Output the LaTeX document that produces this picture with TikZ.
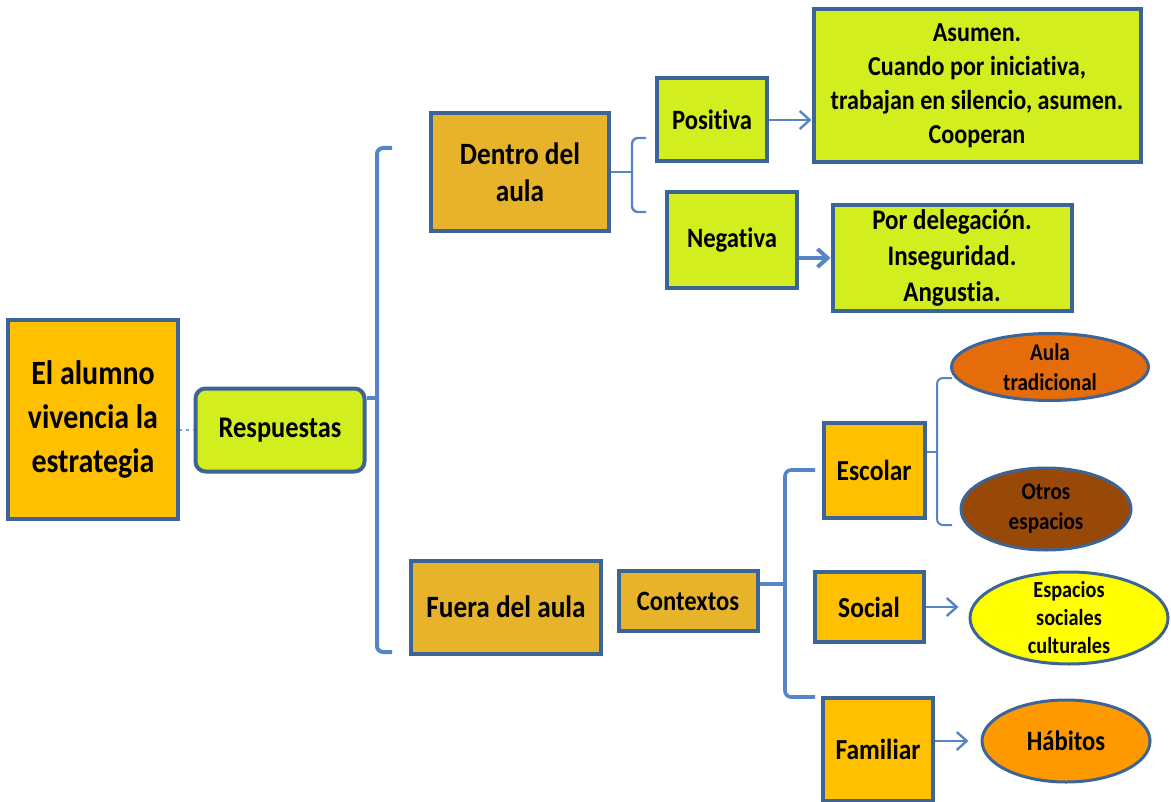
\documentclass[tikz,border=0pt]{standalone}
\usepackage{fontspec}
\setmainfont{Carlito}[FakeStretch=0.88, RawFeature={-liga;-calt;-clig;-dlig}]
\usepackage{xcolor}
\usepackage{tikz}
\usetikzlibrary{calc}
\usetikzlibrary{arrows.meta}
\usetikzlibrary{shapes.geometric}
\definecolor{borde}{HTML}{3C6496}
\definecolor{conector}{HTML}{5585C8}
\definecolor{naranja}{HTML}{FFC000}
\definecolor{dorado}{HTML}{E6B32A}
\definecolor{lima}{HTML}{D2EE1E}
\definecolor{naranjaosc}{HTML}{E46C0A}
\definecolor{marron}{HTML}{984807}
\definecolor{amarillo}{HTML}{FFFF00}
\definecolor{naranjacl}{HTML}{FF9900}
\tikzset{>={Straight Barb[length=5pt,width=9pt]}}
\tikzstyle{caja} = [draw=borde, line width=2pt, align=center, inner sep=2pt]
\tikzstyle{ovalo} = [ellipse, draw=borde, line width=1.5pt, align=center, inner sep=-5pt]
\tikzstyle{llave} = [-, draw=conector, line width=1.5pt, rounded corners=3pt]
\tikzstyle{flecha} = [->, draw=conector, line width=1.2pt]
\tikzstyle{enlace} = [-, dotted, draw=conector!80, line width=1.2pt]
\newcommand{\letra}[2]{\bfseries\fontsize{#1}{#2}\selectfont}

\begin{document}
\begin{tikzpicture}[x=0.5pt, y=-0.5pt]
\useasboundingbox (0,0) rectangle (1171,802);

% columna izquierda
\node [caja, fill=naranja, minimum width=85pt, minimum height=99.5pt, font=\letra{17}{22}] (alumno) at (93,419) {El alumno\\vivencia la\\estrategia};
\node [caja, fill=lima, rounded corners=5pt, minimum width=84.5pt, minimum height=41.5pt, font=\letra{15}{18}] (resp) at (280,430) {Respuestas};
\draw [enlace] (alumno.east |- resp.west) -- (resp.west);

% llave grande
\coordinate (b1) at (377,398);
\coordinate (b1a) at (392,148);
\coordinate (b1b) at (392,652);
\draw [llave, line width=2pt] (b1a) -- (b1a -| b1) -- (b1b -| b1) -- (b1b);
\draw [llave, line width=2pt] (resp.east |- b1) -- (b1);

\node [caja, fill=dorado, minimum width=89pt, minimum height=59pt, font=\letra{15.5}{18.5}] (dentro) at (520,172) {Dentro del\\aula};
\node [caja, fill=dorado, minimum width=95pt, minimum height=46.5pt, font=\letra{15.5}{18.5}] (fuera) at (506,607) {Fuera del aula};

% dentro del aula
\coordinate (b2) at (632,172);
\coordinate (b2a) at (646,138);
\coordinate (b2b) at (646,212);
\draw [llave, line width=1.2pt] (b2a) -- (b2a -| b2) -- (b2b -| b2) -- (b2b);
\draw [llave, line width=1.2pt] (dentro.east) -- (b2);

\node [caja, fill=lima, minimum width=55pt, minimum height=41.5pt, font=\letra{14}{17}] (posit) at (712,120) {Positiva};
\node [caja, fill=lima, minimum width=65pt, minimum height=48pt, font=\letra{14}{17}] (negat) at (732,240) {Negativa};
\node [caja, fill=lima, minimum width=163.5pt, minimum height=76.5pt, font=\letra{13.7}{17}] (asumen) at (977,86) {Asumen.\\Cuando por iniciativa,\\trabajan en silencio, asumen.\\Cooperan};
\node [caja, fill=lima, minimum width=119.5pt, minimum height=52.5pt, font=\letra{14.2}{18}] (deleg) at (952,258) {Por delegación.\\Inseguridad.\\Angustia.};
\draw [flecha] (posit.east) -- (posit.east -| asumen.west);
\draw [flecha, line width=2pt] (deleg.west -| negat.east) -- (deleg.west);

% fuera del aula
\node [caja, fill=dorado, minimum width=69.5pt, minimum height=30pt, font=\letra{14}{17}] (context) at (688,601) {Contextos};
\coordinate (b3) at (785,584);
\coordinate (b3a) at (815,470);
\coordinate (b3b) at (815,697);
\draw [llave, line width=1.8pt] (b3a) -- (b3a -| b3) -- (b3b -| b3) -- (b3b);
\draw [llave, line width=1.8pt] (b3 -| context.east) -- (b3);

\node [caja, fill=naranja, minimum width=50.5pt, minimum height=47.5pt, font=\letra{14.5}{17}] (escolar) at (874,470) {Escolar};
\node [caja, fill=naranja, minimum width=54.5pt, minimum height=35pt, font=\letra{14.5}{17}] (social) at (869,607) {Social};
\node [caja, fill=naranja, minimum width=55pt, minimum height=51.5pt, font=\letra{14.5}{17}] (familiar) at (878,749) {Familiar};

\coordinate (b4) at (937,452);
\coordinate (b4a) at (952,378);
\coordinate (b4b) at (952,525);
\draw [llave, line width=1pt] (b4a) -- (b4a -| b4) -- (b4b -| b4) -- (b4b);
\draw [llave, line width=1pt] (b4 -| escolar.east) -- (b4);

\node [ovalo, fill=naranjaosc, minimum width=98.5pt, minimum height=33.5pt, font=\letra{12}{15}] (tradic) at (1050,367) {Aula\\tradicional};
\node [ovalo, fill=marron, minimum width=85pt, minimum height=41pt, font=\letra{12}{15}] (otros) at (1046,509) {Otros\\espacios};
\node [ovalo, fill=amarillo, minimum width=99pt, minimum height=46pt, font=\letra{11.5}{14}] (espac) at (1069,618) {Espacios\\sociales\\culturales};
\node [ovalo, fill=naranjacl, minimum width=84pt, minimum height=41pt, font=\letra{14}{17}] (habit) at (1066,741) {Hábitos};
\draw [flecha, shorten >=5pt] (social.east) -- (social.east -| espac.west);
\draw [flecha, shorten >=6pt] (familiar.east |- habit.west) -- (habit.west);
\end{tikzpicture}
\end{document}
